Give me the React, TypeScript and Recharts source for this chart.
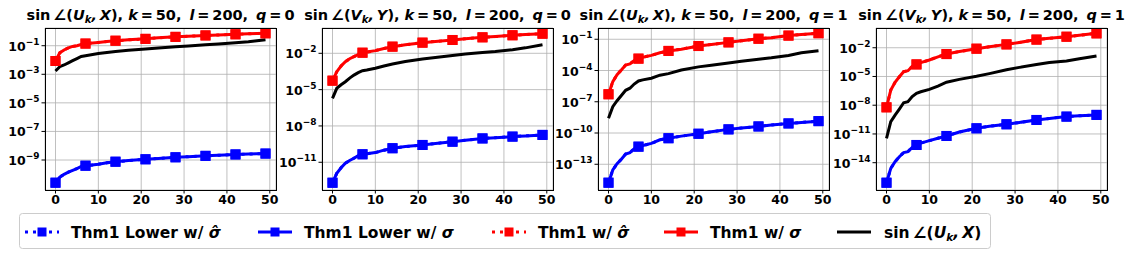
import React from "react";
import { CartesianGrid, Line, LineChart, XAxis, YAxis } from "recharts";

// sample positions (iteration index) shared by every curve
const kSteps = [0, 1, 2, 3, 4, 5, 6, 7, 8, 10, 12, 14, 17, 21, 24, 28, 31, 35, 38, 42, 45, 49];
const xTicks = [0, 10, 20, 30, 40, 50];

// all values are log10 of the plotted quantity
const uxQ0Thm1 = [-2.07, -1.5, -1.3, -1.15, -1.05, -1.0, -0.92, -0.85, -0.82, -0.77, -0.7, -0.65, -0.59, -0.52, -0.45, -0.38, -0.34, -0.28, -0.25, -0.2, -0.17, -0.13];
const uxQ0Sin = [-2.77, -2.47, -2.35, -2.2, -2.05, -1.9, -1.75, -1.7, -1.65, -1.55, -1.47, -1.4, -1.32, -1.23, -1.16, -1.07, -1.02, -0.94, -0.88, -0.8, -0.72, -0.58];
const uxQ0Lower = [-10.59, -10.2, -10.0, -9.85, -9.72, -9.6, -9.45, -9.4, -9.37, -9.3, -9.2, -9.12, -9.04, -8.95, -8.89, -8.81, -8.77, -8.71, -8.67, -8.61, -8.58, -8.55];

const vyQ0Thm1 = [-4.26, -3.52, -3.05, -2.69, -2.45, -2.28, -2.1, -1.95, -1.9, -1.78, -1.6, -1.45, -1.3, -1.12, -1.02, -0.9, -0.8, -0.68, -0.62, -0.51, -0.45, -0.38];
const vyQ0Sin = [-5.72, -4.89, -4.6, -4.35, -4.05, -3.8, -3.6, -3.44, -3.38, -3.24, -3.05, -2.88, -2.68, -2.47, -2.35, -2.18, -2.05, -1.93, -1.85, -1.7, -1.55, -1.3];
const vyQ0Lower = [-12.69, -11.91, -11.45, -11.08, -10.85, -10.67, -10.45, -10.34, -10.3, -10.2, -10.0, -9.84, -9.7, -9.57, -9.45, -9.3, -9.18, -9.03, -8.97, -8.88, -8.82, -8.74];

const uxQ1Thm1 = [-6.28, -5.07, -4.4, -3.95, -3.47, -3.37, -3.05, -2.86, -2.72, -2.55, -2.3, -2.12, -1.95, -1.65, -1.5, -1.3, -1.15, -0.95, -0.85, -0.65, -0.55, -0.42];
const uxQ1Sin = [-8.58, -7.47, -6.9, -6.4, -5.9, -5.7, -5.3, -5.0, -4.9, -4.74, -4.45, -4.3, -3.95, -3.65, -3.5, -3.28, -3.12, -2.92, -2.78, -2.55, -2.3, -2.1];
const uxQ1Lower = [-14.77, -13.55, -12.95, -12.52, -12.01, -11.88, -11.5, -11.31, -11.2, -11.0, -10.65, -10.5, -10.3, -10.07, -9.88, -9.65, -9.52, -9.37, -9.22, -9.08, -8.98, -8.86];

const vyQ1Thm1 = [-8.22, -6.42, -5.6, -5.03, -4.5, -4.4, -3.95, -3.74, -3.55, -3.28, -2.95, -2.66, -2.4, -2.1, -1.9, -1.65, -1.45, -1.15, -1.02, -0.85, -0.7, -0.5];
const vyQ1Sin = [-11.46, -9.72, -9.03, -8.4, -7.74, -7.64, -7.1, -6.76, -6.6, -6.35, -6.0, -5.6, -5.3, -4.98, -4.7, -4.3, -4.05, -3.75, -3.55, -3.38, -3.15, -2.87];
const vyQ1Lower = [-16.09, -14.59, -13.9, -13.37, -12.95, -12.85, -12.4, -12.15, -11.95, -11.7, -11.45, -11.21, -10.8, -10.41, -10.2, -9.99, -9.8, -9.54, -9.38, -9.19, -9.1, -9.01];

const panels = [
    { sub: "U", rhs: "X", q: 0, thm1: uxQ0Thm1, sin: uxQ0Sin, lower: uxQ0Lower, yTicks: [-9, -7, -5, -3, -1], yDomain: [-11.1, 0.24], left: 45 },
    { sub: "V", rhs: "Y", q: 0, thm1: vyQ0Thm1, sin: vyQ0Sin, lower: vyQ0Lower, yTicks: [-11, -8, -5, -2], yDomain: [-13.29, 0.09], left: 322 },
    { sub: "U", rhs: "X", q: 1, thm1: uxQ1Thm1, sin: uxQ1Sin, lower: uxQ1Lower, yTicks: [-13, -10, -7, -4, -1], yDomain: [-15.47, 0.08], left: 598 },
    { sub: "V", rhs: "Y", q: 1, thm1: vyQ1Thm1, sin: vyQ1Sin, lower: vyQ1Lower, yTicks: [-14, -11, -8, -5, -2], yDomain: [-16.85, 0.06], left: 876 },
];

const PLOT_W = 231;
const PLOT_TOP = 28;
const PLOT_H = 162;
const Y_AXIS_W = 45;
const FONT = "'DejaVu Sans', sans-serif";
const THIN = "\u2009";

const toRows = (vals: number[]) => kSteps.map((k, i) => ({ k, v: vals[i] }));

const squareDot = (color: string) => (props: any) => {
    const { cx, cy, payload, index } = props;
    if (payload.k % 7 !== 0) return <g key={index} />;
    return <rect key={index} x={cx - 5} y={cy - 5} width={10} height={10} fill={color} />;
};

const PowTick = ({ x, y, payload }: any) => (
    <text x={x} y={y + 5} textAnchor="end" fontSize={12.5} fontWeight="bold" fill="#000" fontFamily={FONT}>
        10<tspan dy={-6} fontSize={9}>{"\u2212" + Math.abs(payload.value)}</tspan>
    </text>
);

const Panel = ({ p }: { p: (typeof panels)[number] }) => {
    const red = toRows(p.thm1);
    const blue = toRows(p.lower);
    const black = toRows(p.sin);
    return (
        <div style={{ position: "absolute", left: p.left - Y_AXIS_W, top: 0 }}>
            <LineChart
                width={Y_AXIS_W + PLOT_W + 10}
                height={PLOT_TOP + PLOT_H + 26}
                margin={{ top: PLOT_TOP, right: 10, bottom: 0, left: 0 }}
            >
                <CartesianGrid stroke="#b0b0b0" strokeWidth={0.8} />
                <XAxis
                    type="number"
                    dataKey="k"
                    domain={[-2.45, 51.45]}
                    ticks={xTicks}
                    allowDataOverflow
                    height={26}
                    axisLine={false}
                    tickLine={{ stroke: "#000" }}
                    tickSize={3.5}
                    tick={{ fontSize: 12.5, fontWeight: "bold", fill: "#000", fontFamily: FONT }}
                />
                <YAxis
                    type="number"
                    domain={p.yDomain}
                    ticks={p.yTicks}
                    allowDataOverflow
                    width={Y_AXIS_W}
                    axisLine={false}
                    tickLine={{ stroke: "#000" }}
                    tickSize={3.5}
                    tick={<PowTick />}
                />
                <Line data={blue} dataKey="v" stroke="#0000ff" strokeWidth={3} strokeDasharray="3 5" dot={squareDot("#0000ff")} isAnimationActive={false} />
                <Line data={blue} dataKey="v" stroke="#0000ff" strokeWidth={3} dot={squareDot("#0000ff")} isAnimationActive={false} />
                <Line data={red} dataKey="v" stroke="#ff0000" strokeWidth={3} strokeDasharray="3 5" dot={squareDot("#ff0000")} isAnimationActive={false} />
                <Line data={red} dataKey="v" stroke="#ff0000" strokeWidth={3} dot={squareDot("#ff0000")} isAnimationActive={false} />
                <Line data={black} dataKey="v" stroke="#000000" strokeWidth={3} dot={false} isAnimationActive={false} />
            </LineChart>
        </div>
    );
};

const Title = ({ p }: { p: (typeof panels)[number] }) => (
    <text x={p.left + PLOT_W / 2} y={20} textAnchor="middle" fontSize={14.5} fontWeight="bold" fontFamily={FONT} style={{ whiteSpace: "pre" }}>
        {"sin" + THIN + "\u2220("}
        <tspan fontStyle="italic">{p.sub}</tspan>
        <tspan fontStyle="italic" fontSize={10} dy={3}>k</tspan>
        <tspan dy={-3} fontStyle="italic">{"," + THIN + p.rhs}</tspan>
        {"), "}
        <tspan fontStyle="italic">k</tspan>
        {THIN + "=" + THIN + "50," + THIN + " "}
        <tspan fontStyle="italic">l</tspan>
        {THIN + "=" + THIN + "200," + THIN + " "}
        <tspan fontStyle="italic">q</tspan>
        {THIN + "=" + THIN + p.q}
    </text>
);

const legendItems = [
    { color: "#0000ff", dotted: true, marker: true, x: 25, text: ["Thm1 Lower w/ ", "\u03c3\u0302"] },
    { color: "#0000ff", dotted: false, marker: true, x: 258, text: ["Thm1 Lower w/ ", "\u03c3"] },
    { color: "#ff0000", dotted: true, marker: true, x: 492, text: ["Thm1 w/ ", "\u03c3\u0302"] },
    { color: "#ff0000", dotted: false, marker: true, x: 664, text: ["Thm1 w/ ", "\u03c3"] },
    { color: "#000000", dotted: false, marker: false, x: 837, text: [] },
];

const Legend = () => (
    <g fontFamily={FONT} fontWeight="bold" fontSize={15.5}>
        <rect x={19.5} y={213.5} width={971} height={35} rx={3} fill="#fff" stroke="#cccccc" />
        {legendItems.map((it, i) => (
            <g key={i}>
                <line x1={it.x} x2={it.x + 34} y1={232} y2={232} stroke={it.color} strokeWidth={3} strokeDasharray={it.dotted ? "3 5" : undefined} />
                {it.marker && <rect x={it.x + 12.5} y={227.5} width={9} height={9} fill={it.color} />}
                {it.text.length > 0 ? (
                    <text x={it.x + 46} y={237.5}>
                        {it.text[0]}
                        <tspan fontStyle="italic">{it.text[1]}</tspan>
                    </text>
                ) : (
                    <text x={it.x + 47} y={237.5} style={{ whiteSpace: "pre" }}>
                        {"sin" + THIN + "\u2220("}
                        <tspan fontStyle="italic">U</tspan>
                        <tspan fontStyle="italic" fontSize={10.5} dy={3}>k</tspan>
                        <tspan dy={-3} fontStyle="italic">{"," + THIN + "X"}</tspan>
                        {")"}
                    </text>
                )}
            </g>
        ))}
    </g>
);

export default function App() {
    return (
        <div style={{ position: "relative", width: 1130, height: 254, background: "#fff", fontFamily: FONT }}>
            <style>{"body{margin:0}"}</style>
            {panels.map((p, i) => (
                <Panel key={i} p={p} />
            ))}
            <svg width={1130} height={254} style={{ position: "absolute", left: 0, top: 0, pointerEvents: "none" }}>
                {panels.map((p, i) => (
                    <g key={i}>
                        <rect x={p.left + 0.5} y={PLOT_TOP + 0.5} width={PLOT_W} height={PLOT_H} fill="none" stroke="#000" strokeWidth={1} />
                        <Title p={p} />
                    </g>
                ))}
                <Legend />
            </svg>
        </div>
    );
}
